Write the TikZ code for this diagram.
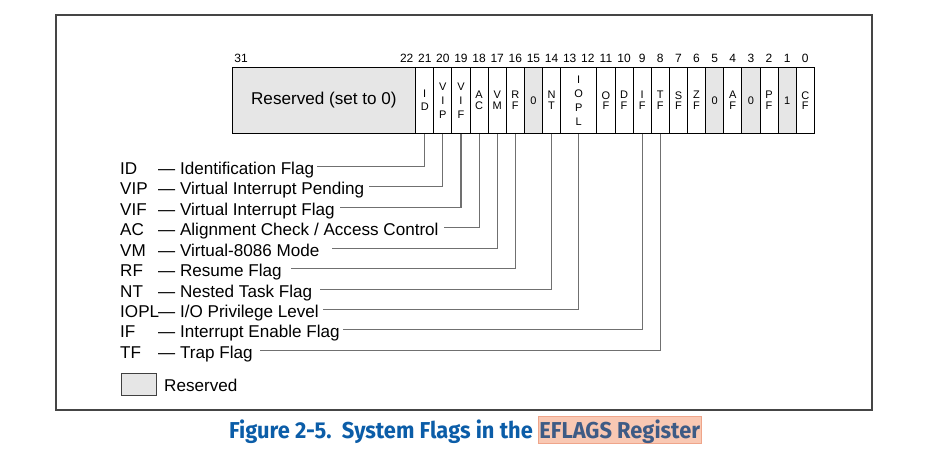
\documentclass[tikz,border=0pt]{standalone}
\usepackage{fontspec}
\setmainfont{Liberation Sans}
\newfontfamily\capfont{Fira Sans}
\usetikzlibrary{calc}

\definecolor{resgray}{HTML}{E6E6E6}
\definecolor{leadgray}{HTML}{707070}
\definecolor{framegray}{HTML}{454545}
\definecolor{capblue}{HTML}{0B5DA8}
\definecolor{hlfill}{HTML}{F9C8B3}
\definecolor{hldraw}{HTML}{EFA58A}
\definecolor{hltext}{HTML}{3E5B85}

\newcommand\lblfont{\fontsize{17.1pt}{20pt}\selectfont}
\newcommand\numfont{\fontsize{12pt}{14pt}\selectfont}
\newcommand\capsq[1]{\scalebox{0.95}[1]{#1}}

\begin{document}
\begin{tikzpicture}[x=1pt,y=-1pt,
  lbl/.style={font=\lblfont, inner sep=0, anchor=base west},
  leader/.style={draw=leadgray, line width=1.1pt},
  cell/.style={draw=black, line width=0.9pt, inner sep=0, minimum height=66pt, align=center},
  bitnum/.style={font=\numfont, inner sep=0, anchor=base}]

\useasboundingbox (0,0) rectangle (934,463);
\fill[white] (0,0) rectangle (934,463);

% outer frame
\draw[framegray, line width=1.6pt] (55.7,14.7) rectangle (872,409.7);

% reserved upper part of the register
\node[cell, fill=resgray, minimum width=183.7pt, font=\lblfont] (res) at (323.85,100.3) {Reserved (set to 0)};

% flag fields: high bit / low bit / text / fill / line spacing
\foreach \hi/\lo/\txt/\fc/\ls in {
  21/21/{I\\D}/white/12.5,
  20/20/{V\\I\\P}/white/14,
  19/19/{V\\I\\F}/white/14,
  18/18/{A\\C}/white/10.2,
  17/17/{V\\M}/white/10.2,
  16/16/{R\\F}/white/10.2,
  15/15/0/resgray/12,
  14/14/{N\\T}/white/10.2,
  13/12/{I\\O\\P\\L}/white/14,
  11/11/{O\\F}/white/10.2,
  10/10/{D\\F}/white/10.2,
  9/9/{I\\F}/white/10.2,
  8/8/{T\\F}/white/10.2,
  7/7/{S\\F}/white/10.2,
  6/6/{Z\\F}/white/10.2,
  5/5/0/resgray/12,
  4/4/{A\\F}/white/10.2,
  3/3/0/resgray/12,
  2/2/{P\\F}/white/10.2,
  1/1/1/resgray/12,
  0/0/{C\\F}/white/10.2}
{
  \pgfmathsetmacro\cxa{415.7+(21-\hi)*18.118}
  \pgfmathsetmacro\cxb{415.7+(22-\lo)*18.118}
  \pgfmathsetmacro\cwid{\cxb-\cxa}
  \pgfmathsetmacro\cxc{(\cxa+\cxb)/2}
  \node[cell, fill=\fc, minimum width=\cwid pt, font=\fontsize{11pt}{\ls pt}\selectfont] (f\lo) at (\cxc,100.3) {\txt};
}
\draw[black, line width=1pt] (232,67.3) rectangle (814.3,133.3);

% bit numbers
\node[bitnum] (n31) at (241,62) {31};
\node[bitnum] (n22) at (406.7,62) {22};
\foreach \b in {0,...,21}{
  \pgfmathsetmacro\xn{415.7+(21-\b+0.5)*18.118}
  \node[bitnum] (n\b) at (\xn,62) {\b};
}

% flag legend rows: index / abbreviation / description / field / gap
\foreach \i/\ab/\ds/\fld/\gp in {
  0/ID/Identification Flag/21/3,
  1/VIP/Virtual Interrupt Pending/20/5,
  2/VIF/Virtual Interrupt Flag/19/5,
  3/AC/{Alignment Check / Access Control}/18/5,
  4/VM/Virtual-8086 Mode/17/12,
  5/RF/Resume Flag/16/9,
  6/NT/Nested Task Flag/14/8,
  7/IOPL/{I/O Privilege Level}/12/4,
  8/IF/Interrupt Enable Flag/9/3,
  9/TF/Trap Flag/8/7}
{
  \pgfmathsetmacro\yb{174.5+\i*20.43}
  \node[lbl] (a\i) at (120,\yb) {\ab};
  \node[lbl] (d\i) at (158,\yb) {— \ds};
  \draw[leader] (f\fld.south) |- ($(d\i.base east)+(\gp,-8)$);
}

% reserved legend
\node[draw=black!75, line width=0.9pt, fill=resgray, minimum width=35pt, minimum height=22pt, inner sep=0] (legbox) at (138.5,384) {};
\node[font=\lblfont, inner sep=0, anchor=west] (legtext) at (164,385) {Reserved};

% caption
\node[anchor=base west, inner sep=0, text=capblue, font=\capfont\bfseries\fontsize{23pt}{26pt}\selectfont] (cap1) at (229,438.8) {\capsq{Figure 2-5.\ \ System Flags in the}};
\node[anchor=base west, inner xsep=1.5pt, inner ysep=3pt, text height=19.5pt, text depth=1.5pt, fill=hlfill, draw=hldraw, line width=0.8pt, text=hltext, font=\capfont\bfseries\fontsize{23pt}{26pt}\selectfont] (cap2) at ($(cap1.base east)+(4.5,0)$) {\capsq{EFLAGS Register}};
\end{tikzpicture}
\end{document}
